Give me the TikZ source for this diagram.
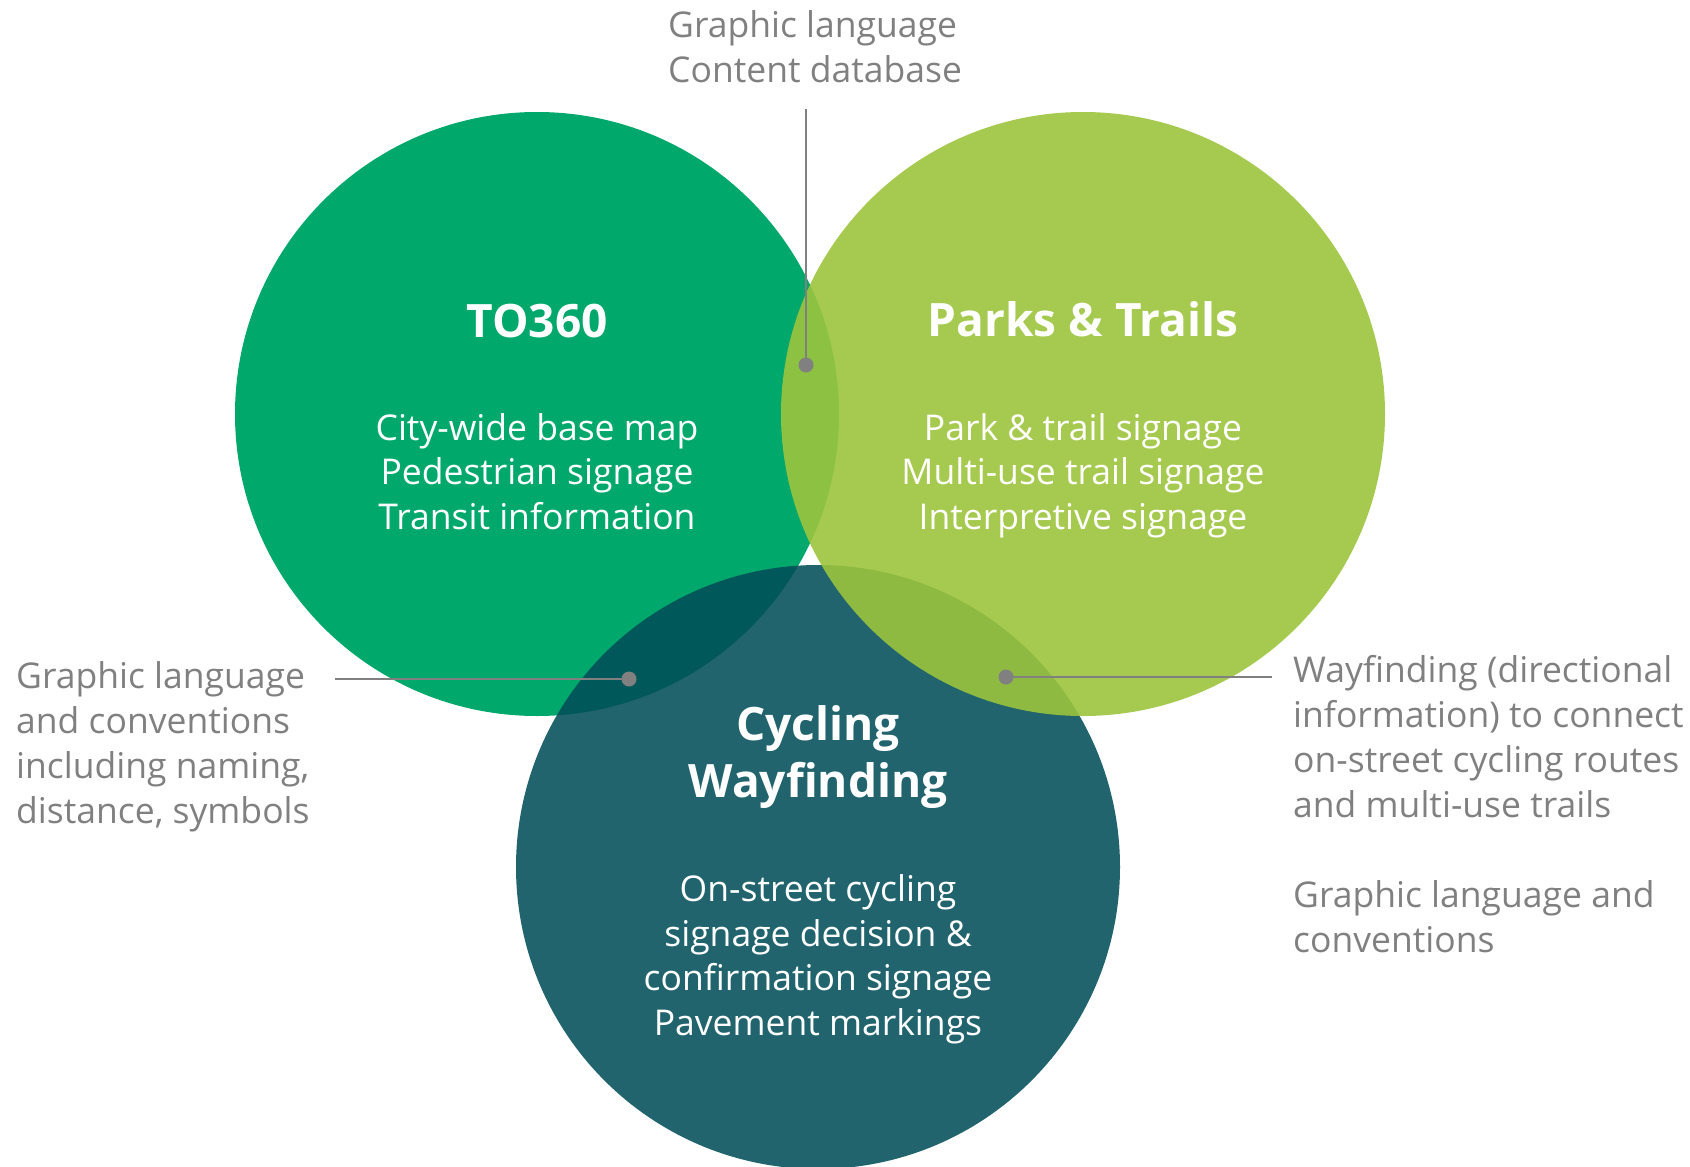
\documentclass[tikz,border=0pt]{standalone}
\usepackage{fontspec}
\setmainfont{Open Sans}
\usepackage{tikz}

\definecolor{tocolor}{RGB}{0,168,107}
\definecolor{parkscolor}{RGB}{156,196,61}
\definecolor{cyclecolor}{RGB}{1,77,88}
\definecolor{notegray}{RGB}{128,128,128}

\begin{document}
\begin{tikzpicture}[x=1pt,y=-1pt]
\tikzstyle{ring}=[circle, minimum size=604pt, inner sep=0pt]
\tikzstyle{head}=[text=white, align=center, inner sep=0pt, anchor=base, font=\fontsize{46}{57}\selectfont\bfseries]
\tikzstyle{body}=[text=white, align=center, inner sep=0pt, anchor=base, font=\fontsize{35.5}{44.5}\selectfont]
\tikzstyle{note}=[text=notegray, align=left, inner sep=0pt, anchor=base west, font=\fontsize{35.5}{45}\selectfont]
\tikzstyle{leader}=[draw=notegray, line width=2.7pt]
\useasboundingbox (0,0) rectangle (1690,1167);
\clip (0,0) rectangle (1690,1167);

% the three circles, later ones see-through
\node[ring, fill=tocolor] (to360) at (537,414) {};
\node[ring, fill=cyclecolor, fill opacity=0.87] (cycling) at (818,867) {};
\node[ring, fill=parkscolor, fill opacity=0.9] (parks) at (1083,414) {};

% texts sit on the baseline of their last line
\node[head] (to360head) at (537,337) {TO360};
\node[body] (to360list) at (537,529) {City-wide base map\\ Pedestrian signage\\ Transit information};
\node[head] (parkshead) at (1083,336) {Parks \& Trails};
\node[body] (parkslist) at (1083,529) {Park \& trail signage\\ Multi-use trail signage\\ Interpretive signage};
\node[head] (cyclinghead) at (818,797) {Cycling\\ Wayfinding};
\node[body] (cyclinglist) at (818,1035) {On-street cycling\\ signage decision \&\\ confirmation signage\\ Pavement markings};

% notes outside
\node[note] (topnote) at (668,82) {Graphic language\\ Content database};
\node[note] (leftnote) at (16,823) {Graphic language\\ and conventions\\ including naming,\\ distance, symbols};
\node[note] (rightnote) at (1293,952) {Wayfinding (directional\\ information) to connect\\ on-street cycling routes\\ and multi-use trails\\[45pt] Graphic language and\\ conventions};

\coordinate (topdot) at (806,365);
\coordinate (leftdot) at (629,679);
\coordinate (rightdot) at (1006,677);

\draw[leader] ([yshift=-26pt]topnote.south -| topdot) -- (topdot);
\draw[leader] ([xshift=25pt]leftnote.east |- leftdot) -- (leftdot);
\draw[leader] ([xshift=-21pt]rightnote.west |- rightdot) -- (rightdot);
\fill[notegray] (topdot) circle (7.5pt) (leftdot) circle (7.5pt) (rightdot) circle (7.5pt);
\end{tikzpicture}
\end{document}
